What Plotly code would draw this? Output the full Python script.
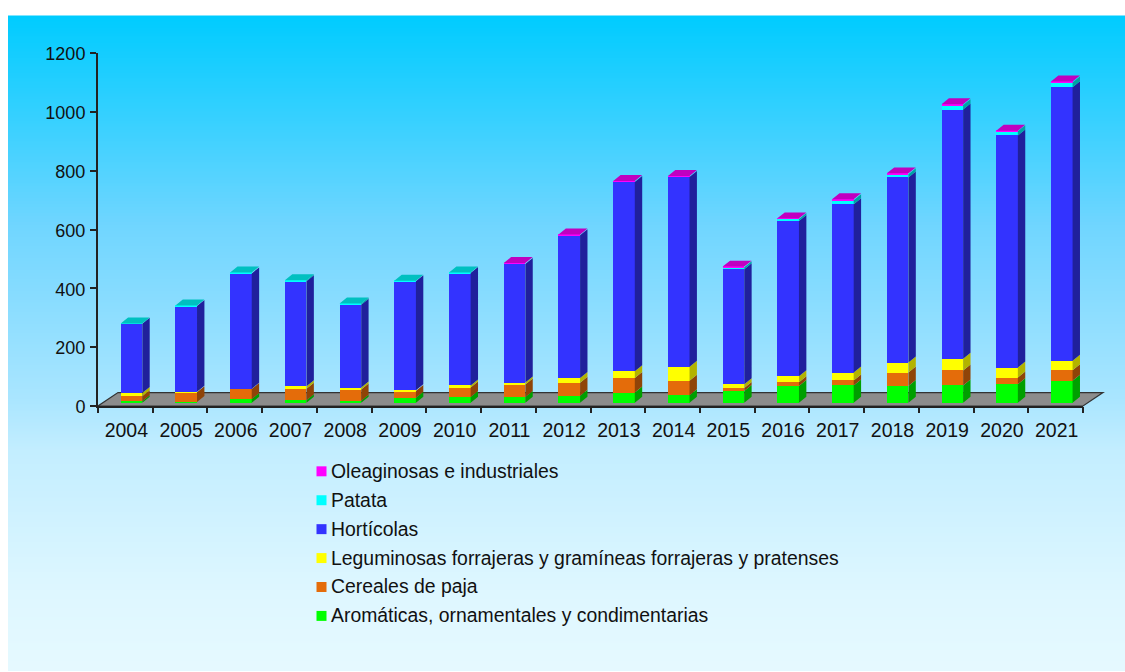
import numpy as np
import plotly.graph_objects as go

years = [2004, 2005, 2006, 2007, 2008, 2009, 2010, 2011, 2012, 2013, 2014, 2015, 2016, 2017, 2018, 2019, 2020, 2021]
aromaticas = [5, 3, 13, 9, 7, 17, 20, 20, 24, 35, 26, 40, 57, 59, 57, 59, 63, 75]
cereales = [17, 33, 34, 39, 38, 23, 32, 42, 44, 49, 49, 10, 13, 17, 46, 51, 23, 36]
leguminosas = [11, 2, 1, 8, 7, 3, 7, 7, 16, 23, 48, 13, 20, 27, 34, 40, 34, 32]
horticolas = [236, 291, 392, 357, 281, 370, 382, 403, 486, 644, 645, 391, 528, 572, 629, 847, 789, 930]
patata = [1, 2, 3, 4, 5, 2, 2, 1, 0, 0, 0, 7, 7, 14, 11, 15, 14, 16]
oleaginosas = [0, 0, 0, 0, 0, 0, 0, 2, 2, 3, 3, 2, 2, 3, 3, 3, 2, 3]

names = ["Aromáticas, ornamentales y condimentarias", "Cereales de paja",
         "Leguminosas forrajeras y gramíneas forrajeras y pratenses",
         "Hortícolas", "Patata", "Oleaginosas e industriales"]
values = [aromaticas, cereales, leguminosas, horticolas, patata, oleaginosas]
front = ["#00ff00", "#e46c0a", "#ffff00", "#3333ff", "#00ffff", "#ff00ff"]
side = ["#009f00", "#8f4408", "#b3b300", "#20209c", "#00a3a3", "#a000a0"]
top = ["#00c000", "#b05508", "#c8c800", "#2828c0", "#00c0c0", "#c000c0"]

W, H = 1125, 672
L, R, T, B = 98.0, 1083.0, 52.5, 406.5     # plot area in pixels
BASE = 403.3                               # pixel row of the bars' front bottom
PX_PER_UNIT = (B - T) / 1200
CAT_PX = (R - L) / 18
BAR_C, BAR_W = 0.612, 0.395
DX, DY = 7.4 / CAT_PX, 6.0 / PX_PER_UNIT   # depth of the pseudo 3D bars


def px(x):
    return (x - L) / (R - L)


def py(y):
    return (B - y) / (B - T)


centers = [i + BAR_C for i in range(len(years))]
fig = go.Figure()

# front faces
for name, vals, col in zip(names, values, front):
    fig.add_trace(go.Bar(x=centers, y=vals, width=BAR_W, name=name, xaxis="x", yaxis="y2",
                         marker=dict(color=col, line=dict(width=0)), showlegend=False,
                         hovertemplate=name + ": %{y}<extra></extra>"))

# side faces
cum = np.zeros(len(years))
for name, vals, col in zip(names, values, side):
    xs, ys = [], []
    for c, base, v in zip(centers, cum, vals):
        if v <= 0:
            continue
        r = c + BAR_W / 2
        xs += [r, r + DX, r + DX, r, r, None]
        ys += [base, base + DY, base + v + DY, base + v, base, None]
    fig.add_trace(go.Scatter(x=xs, y=ys, mode="lines", fill="toself", fillcolor=col,
                             line=dict(width=0, color=col), xaxis="x", yaxis="y2",
                             hoverinfo="skip", showlegend=False))
    cum = cum + np.array(vals)

# top faces, coloured by the highest non-empty series
for s, (vals, col) in enumerate(zip(values, top)):
    xs, ys = [], []
    for i, c in enumerate(centers):
        if vals[i] > 0 and all(values[k][i] == 0 for k in range(s + 1, len(values))):
            l, r, t = c - BAR_W / 2, c + BAR_W / 2, cum[i]
            xs += [l, r, r + DX, l + DX, l, None]
            ys += [t, t, t + DY, t + DY, t, None]
    if xs:
        fig.add_trace(go.Scatter(x=xs, y=ys, mode="lines", fill="toself", fillcolor=col,
                                 line=dict(width=0, color=col), xaxis="x", yaxis="y2",
                                 hoverinfo="skip", showlegend=False))

# carries the tick-mark axis
fig.add_trace(go.Scatter(x=[0], y=[0], mode="markers", marker=dict(opacity=0), xaxis="x2", yaxis="y",
                         hoverinfo="skip", showlegend=False))

shapes = []
# background gradient (strips overlap downward so no seams appear)
stops_y = [15, 225, 400, 450, 590, 672]
stops_r = [0, 112, 170, 195, 222, 230]
stops_g = [204, 214, 230, 238, 247, 250]
for y0 in range(15, H, 3):
    ym = y0 + 1.5
    r_ = int(np.interp(ym, stops_y, stops_r))
    g_ = int(np.interp(ym, stops_y, stops_g))
    shapes.append(dict(type="rect", xref="paper", yref="paper", layer="below",
                       x0=px(8), x1=px(W), y0=py(y0), y1=py(H),
                       fillcolor=f"rgb({r_},{g_},255)", line=dict(width=0)))
# floor
FLOOR_DX, FLOOR_DY = 20, 13.5
path = (f"M {px(L)} {py(B)} L {px(R)} {py(B)} L {px(R + FLOOR_DX)} {py(B - FLOOR_DY)} "
        f"L {px(L + FLOOR_DX)} {py(B - FLOOR_DY)} Z")
shapes.append(dict(type="path", xref="paper", yref="paper", layer="below", path=path,
                   fillcolor="#8c8c8c", line=dict(color="#333333", width=1.2)))

# legend
annotations = []
legend_rows = [472, 501, 530, 559, 588, 617]
for row, name, col in zip(legend_rows, names[::-1], front[::-1]):
    shapes.append(dict(type="rect", xref="paper", yref="paper", layer="above",
                       x0=px(316.5), x1=px(326.5), y0=py(row - 5), y1=py(row + 5),
                       fillcolor=col, line=dict(width=0)))
    annotations.append(dict(xref="paper", yref="paper", x=px(330), y=py(row - 0.5), text=name,
                            showarrow=False, xanchor="left", yanchor="middle",
                            font=dict(size=19.4, color="#111111"), borderpad=0))

fig.update_layout(
    width=W, height=H, autosize=False,
    margin=dict(l=L, r=W - R, t=T, b=H - B, pad=0),
    paper_bgcolor="white", plot_bgcolor="rgba(0,0,0,0)",
    font=dict(family="Liberation Sans, Arial, sans-serif", size=18.5, color="#111111"),
    barmode="stack", bargap=0, showlegend=False,
    shapes=shapes, annotations=annotations,
    xaxis=dict(range=[0, 18], tickmode="array", tickvals=[i + 0.5 for i in range(18)],
               ticktext=[str(y) for y in years], ticks="", showgrid=False, zeroline=False,
               showline=True, linecolor="#222222", linewidth=2, ticklabelstandoff=6,
               tickfont=dict(size=19.5), fixedrange=True, ticklabelshift=1),
    xaxis2=dict(range=[0, 18], overlaying="x", anchor="y", side="bottom", tickmode="array",
                tickvals=list(range(19)), ticks="outside", ticklen=6, tickwidth=1.5,
                tickcolor="#222222", showticklabels=False, showgrid=False, zeroline=False,
                fixedrange=True),
    yaxis=dict(range=[0, 1200], tickmode="array", tickvals=list(range(0, 1201, 200)),
               ticks="outside", ticklen=6, tickwidth=1.5, tickcolor="#222222",
               showgrid=False, zeroline=False, showline=True, linecolor="#222222", linewidth=2,
               tickfont=dict(size=18), fixedrange=True, ticklabelshift=1, ticklabelstandoff=1),
    yaxis2=dict(range=[-(B - BASE) / PX_PER_UNIT, (BASE - T) / PX_PER_UNIT], overlaying="y",
                anchor="x", visible=False, fixedrange=True),
)

fig.write_html("out.html", config={"displayModeBar": False},
               post_script="document.body.style.margin='0';document.body.style.overflow='hidden';")
